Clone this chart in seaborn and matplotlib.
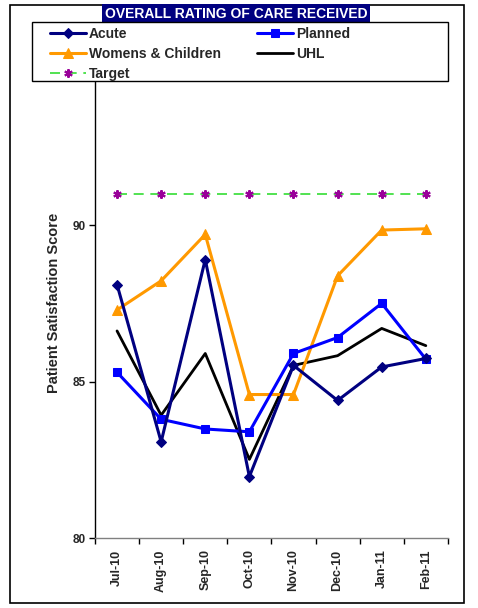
import numpy as np
import pandas as pd
import matplotlib.pyplot as plt
import matplotlib.patches as patches
from matplotlib.ticker import FixedLocator
import seaborn as sns

# data
months = ['Jul-10', 'Aug-10', 'Sep-10', 'Oct-10', 'Nov-10', 'Dec-10', 'Jan-11', 'Feb-11']
acute = [88.1, 83.08, 88.9, 81.97, 85.52, 84.4, 85.47, 85.74]
planned = [85.3, 83.8, 83.49, 83.4, 85.9, 86.41, 87.5, 85.72]
womens = [87.29, 88.22, 89.7, 84.59, 84.59, 88.38, 89.84, 89.88]
uhl = [86.62, 83.93, 85.9, 82.52, 85.52, 85.83, 86.7, 86.15]
target = [91, 91, 91, 91, 91, 91, 91, 91]

sns.set_style('white')
plt.rcParams['font.family'] = ['Liberation Sans', 'DejaVu Sans']
plt.rcParams['font.weight'] = 'bold'

fig = plt.figure(figsize=(4.78, 6.08), dpi=100)
ax = fig.add_axes([0.1987, 0.1146, 0.937 - 0.1987, 0.8875 - 0.1146])

x = np.arange(len(months))
df = pd.DataFrame({'x': x, 'Acute': acute, 'Planned': planned,
                   'Womens & Children': womens, 'UHL': uhl, 'Target': target})

sns.lineplot(data=df, x='x', y='Target', ax=ax, color='#33dd33', lw=1.2,
             linestyle=(0, (6, 4)), marker=(6, 2, 0), markersize=6,
             markeredgecolor='#990099', markerfacecolor='#990099', markeredgewidth=1.5,
             label='Target')
sns.lineplot(data=df, x='x', y='UHL', ax=ax, color='black', lw=2, label='UHL')
sns.lineplot(data=df, x='x', y='Womens & Children', ax=ax, color='#ff9900', lw=2.2,
             marker='^', markersize=7, markeredgecolor='#ff9900', label='Womens & Children')
sns.lineplot(data=df, x='x', y='Planned', ax=ax, color='#0000ff', lw=2.2,
             marker='s', markersize=6, markeredgecolor='#0000ff', label='Planned')
sns.lineplot(data=df, x='x', y='Acute', ax=ax, color='#000080', lw=2.2,
             marker='D', markersize=5, markeredgecolor='#000080', label='Acute')

ax.set_xlim(-0.5, len(months) - 0.5)
ax.set_ylim(80, 95)
ax.set_yticks([80, 85, 90])
ax.set_yticklabels(['80', '85', '90'], fontsize=8.5, fontweight='bold')
ax.xaxis.set_major_locator(FixedLocator(np.arange(-0.5, len(months), 1.0)))
ax.xaxis.set_major_formatter(plt.NullFormatter())
ax.xaxis.set_minor_locator(FixedLocator(x))
ax.set_xticklabels(months, minor=True, rotation=90, fontsize=9, fontweight='bold')
ax.tick_params(axis='x', which='major', direction='out', length=4, width=1, color='black', bottom=True)
ax.tick_params(axis='x', which='minor', length=0, pad=8)
ax.tick_params(axis='y', direction='out', length=4, width=1, color='black', left=True, pad=3)
ax.set_xlabel('')
ax.set_ylabel('Patient Satisfaction Score', fontsize=10.5, fontweight='bold', labelpad=8)

sns.despine(ax=ax)
ax.spines['left'].set_color('black')
ax.spines['bottom'].set_color('#808080')
ax.spines['left'].set_linewidth(1)
ax.spines['bottom'].set_linewidth(1)
ax.get_legend().remove()

# legend box drawn by hand, legend itself without frame
fig.patches.append(patches.Rectangle((32 / 478, 1 - 81 / 608), 416 / 478, 59 / 608,
                                     transform=fig.transFigure, facecolor='white',
                                     edgecolor='black', linewidth=1, zorder=3))

handles, labels = ax.get_legend_handles_labels()
order = ['Acute', 'Womens & Children', 'Target', 'Planned', 'UHL']
hmap = dict(zip(labels, handles))
leg = fig.legend([hmap[k] for k in order], order, ncol=2, loc='upper left',
                 bbox_to_anchor=(50 / 478, 1 - 27 / 608), frameon=False,
                 prop={'weight': 'bold', 'size': 10},
                 handlelength=2.6, handletextpad=0.2, labelspacing=0.42,
                 borderpad=0, borderaxespad=0, columnspacing=2.6)
leg.set_zorder(5)

fig.text(236 / 478, 1 - 14 / 608, 'OVERALL RATING OF CARE RECEIVED', ha='center', va='center',
         color='white', fontsize=10, fontweight='bold', zorder=2,
         bbox=dict(facecolor='#000080', edgecolor='none', boxstyle='square,pad=0.2'))

fig.patches.append(patches.Rectangle((10 / 478, 5 / 608), 454 / 478, 598 / 608,
                                     transform=fig.transFigure, fill=False,
                                     edgecolor='black', linewidth=1.2))

fig.savefig('out.png', dpi=100)
